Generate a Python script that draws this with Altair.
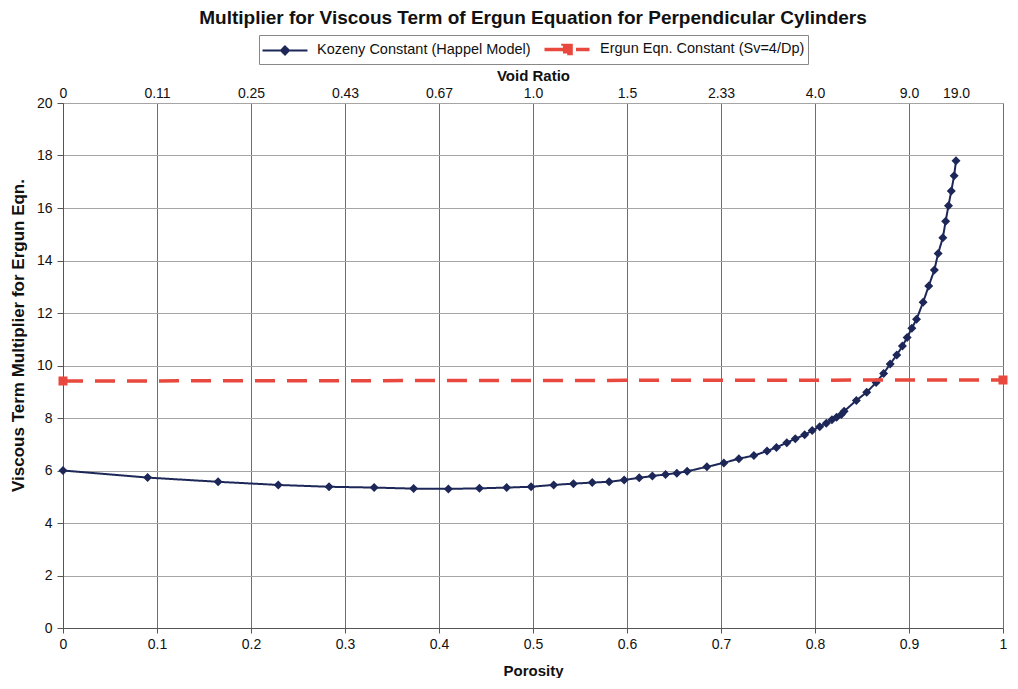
import altair as alt
import pandas as pd

# ---- data ----
porosity_k = [0.0, 0.09, 0.165, 0.229, 0.283, 0.331, 0.373, 0.410, 0.443, 0.472,
              0.498, 0.522, 0.543, 0.563, 0.581, 0.597, 0.613, 0.627, 0.641, 0.653,
              0.664, 0.685, 0.703, 0.719, 0.735, 0.749, 0.759, 0.770, 0.779, 0.789,
              0.797, 0.805, 0.812, 0.818, 0.823, 0.828, 0.831, 0.844, 0.855, 0.865,
              0.873, 0.880, 0.887, 0.893, 0.898, 0.903, 0.908, 0.915, 0.921, 0.927,
              0.931, 0.936, 0.939, 0.942, 0.945, 0.948, 0.950]
multiplier_k = [6.00, 5.73, 5.57, 5.45, 5.38, 5.35, 5.31, 5.30, 5.32, 5.35,
                5.38, 5.45, 5.50, 5.54, 5.57, 5.64, 5.72, 5.79, 5.85, 5.90,
                5.97, 6.14, 6.29, 6.45, 6.57, 6.74, 6.88, 7.06, 7.21, 7.36,
                7.52, 7.67, 7.80, 7.93, 8.03, 8.13, 8.26, 8.67, 8.98, 9.35,
                9.70, 10.06, 10.40, 10.74, 11.07, 11.42, 11.76, 12.41, 13.03, 13.64,
                14.27, 14.87, 15.50, 16.09, 16.65, 17.23, 17.80]
porosity_e = [0.0, 1.0]
multiplier_e = [9.41, 9.45]

series_names = ["Kozeny Constant (Happel Model)", "Ergun Eqn. Constant (Sv=4/Dp)"]
series_colors = ["#1d2758", "#e8483d"]

porosity_ticks = [0.0, 0.1, 0.2, 0.3, 0.4, 0.5, 0.6, 0.7, 0.8, 0.9, 1.0]
void_ratio_pos = [0.0, 0.1, 0.2, 0.3, 0.4, 0.5, 0.6, 0.7, 0.8, 0.9, 0.95]
void_ratio_labels = ["0", "0.11", "0.25", "0.43", "0.67", "1.0", "1.5", "2.33", "4.0", "9.0", "19.0"]
y_ticks = [0, 2, 4, 6, 8, 10, 12, 14, 16, 18, 20]

# ---- table ----
df = pd.concat([
    pd.DataFrame({"porosity": porosity_k, "value": multiplier_k, "series": series_names[0]}),
    pd.DataFrame({"porosity": porosity_e, "value": multiplier_e, "series": series_names[1]}),
], ignore_index=True)

label_expr = ""
for p, lab in zip(void_ratio_pos, void_ratio_labels):
    label_expr += f"round(datum.value*100)=={int(round(p * 100))} ? '{lab}' : "
label_expr += "''"

FONT = "Liberation Sans"

# marker shapes with a legend line segment (segment is invisible on the unstroked plot markers)
shape_paths = [
    "M-2.5,0L2.5,0M0,-0.45L0.45,0L0,0.45L-0.45,0Z",
    "M-2.5,0L0,0M1.0,0L2.5,0M-0.45,-0.45L0.45,-0.45L0.45,0.45L-0.45,0.45Z",
]

legend = alt.Legend(
    title=None, orient="none", legendX=196, legendY=-68, direction="horizontal",
    symbolSize=324, symbolOffset=13, labelOffset=22,
    labelFont=FONT, labelFontSize=14.5, labelColor="#111", labelLimit=0,
    strokeColor="#888", padding=3, columnPadding=6,
)

x_dom = alt.Scale(domain=[0, 1], nice=False, zero=False)
y_dom = alt.Scale(domain=[0, 20], nice=False)

y_axis = alt.Axis(
    values=y_ticks, title="Viscous Term Multiplier for Ergun Eqn.",
    grid=True, gridColor="#a5a5a5", gridOpacity=1, tickSize=6, tickColor="#555",
    domainColor="#555", labelPadding=5, titlePadding=9, titleY=232,
    labelFontSize=14, labelFont=FONT, labelColor="#111",
    titleFontSize=17, titleFont=FONT, titleFontWeight="bold", titleColor="#111")

points = alt.Chart(df).mark_point(filled=True, opacity=1, size=400).encode(
    x=alt.X("porosity:Q", scale=x_dom, axis=alt.Axis(
        orient="bottom", values=porosity_ticks, format=".1~f", title="Porosity",
        grid=True, gridColor="#6f6f6f", gridOpacity=1, tickSize=5, tickColor="#555",
        domainColor="#555", labelPadding=4, titlePadding=12, labelFlush=False,
        labelFontSize=14, labelFont=FONT, labelColor="#111",
        titleFontSize=15, titleFont=FONT, titleFontWeight="bold", titleColor="#111")),
    y=alt.Y("value:Q", scale=y_dom, axis=y_axis),
    color=alt.Color("series:N", scale=alt.Scale(domain=series_names, range=series_colors), legend=legend),
    shape=alt.Shape("series:N", scale=alt.Scale(domain=series_names, range=shape_paths), legend=legend),
)

lines = alt.Chart(df).mark_line(strokeCap="butt").encode(
    x=alt.X("porosity:Q", scale=x_dom, axis=alt.Axis(
        orient="top", values=void_ratio_pos, labelExpr=label_expr, title="Void Ratio",
        grid=False, ticks=False, domain=False, labelPadding=3, titlePadding=3, labelFlush=False,
        labelFontSize=14, labelFont=FONT, labelColor="#111",
        titleFontSize=15, titleFont=FONT, titleFontWeight="bold", titleColor="#111")),
    y=alt.Y("value:Q", scale=y_dom, axis=y_axis),
    stroke=alt.Stroke("series:N", scale=alt.Scale(domain=series_names, range=series_colors), legend=legend),
    strokeDash=alt.StrokeDash("series:N", scale=alt.Scale(domain=series_names, range=[[1, 0], [20, 12]]), legend=legend),
    strokeWidth=alt.StrokeWidth("series:N", scale=alt.Scale(type="point", domain=series_names, range=[2, 3.5]), legend=legend),
)

chart = alt.layer(points, lines).properties(
    width=940, height=525,
    autosize=alt.AutoSizeParams(type="none"),
    padding={"left": 55, "top": 95, "right": 7, "bottom": 50},
    title=alt.TitleParams(
        "Multiplier for Viscous Term of Ergun Equation for Perpendicular Cylinders",
        font=FONT, fontSize=19, fontWeight="bold", color="#111", anchor="middle", offset=7),
).configure_view(stroke="#555", strokeWidth=1).configure(background="white")

chart.save("out.html", embed_options={"renderer": "svg", "actions": False})
